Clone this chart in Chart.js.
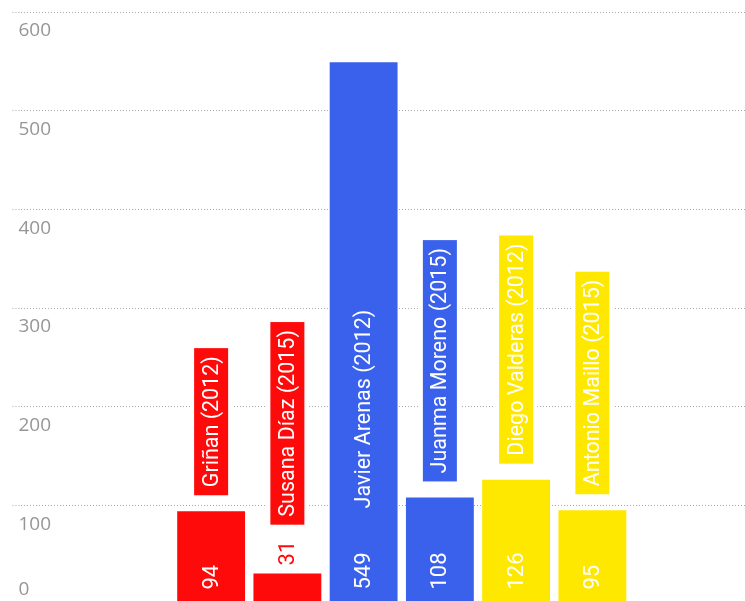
<!DOCTYPE html>
<html>
<head>
<meta charset="utf-8">
<script src="https://cdn.jsdelivr.net/npm/chart.js@4.4.1/dist/chart.umd.min.js"></script>
<style>
	html, body { margin: 0; padding: 0; background: #fff; overflow: hidden; }
	#wrap { position: relative; width: 783px; height: 604px; }
</style>
</head>
<body>
<div id="wrap"><canvas id="c" width="783" height="604"></canvas></div>
<script>
const names = ['Griñan (2012)', 'Susana Díaz (2015)', 'Javier Arenas (2012)', 'Juanma Moreno (2015)', 'Diego Valderas (2012)', 'Antonio Maillo (2015)'];
const votes = [94, 31, 549, 108, 126, 95];
const partyColors = ['#ff0a0a', '#ff0a0a', '#3a61ec', '#3a61ec', '#ffe800', '#ffe800'];
const yTicks = [0, 100, 200, 300, 400, 500, 600];

// the picture is a crop, so there are empty slots either side of the bars
const emptySlots = 2;

const nameFont = '21.5px Roboto, "Liberation Sans", sans-serif';
const valueFont = '22px Roboto, "Liberation Sans", sans-serif';
const tickFont = '19px "Open Sans", "Liberation Sans", sans-serif';

function padded(arr, fill) {
	const blank = Array(emptySlots).fill(fill);
	return blank.concat(arr, blank);
}

function rotatedText(ctx, text, x, y, color) {
	ctx.save();
	ctx.translate(x, y);
	ctx.rotate(-Math.PI / 2);
	ctx.fillStyle = color;
	ctx.textAlign = 'left';
	ctx.textBaseline = 'middle';
	ctx.fillText(text, 0, 1);
	ctx.restore();
}

// y tick labels sit just under their grid line
const tickLabels = {
	id: 'tickLabels',
	beforeDatasetsDraw(chart) {
		const ctx = chart.ctx, y = chart.scales.y, area = chart.chartArea;
		ctx.save();
		ctx.font = tickFont;
		ctx.fillStyle = '#969696';
		ctx.textAlign = 'left';
		ctx.textBaseline = 'middle';
		yTicks.forEach(t => {
			const py = Math.min(y.getPixelForValue(t) + 19, area.bottom - 14);
			ctx.fillText(String(t), y.left + 6, py);
		});
		ctx.restore();
	}
};

// value at the foot of each bar, name inside the bar or in a tag above it
const barLabels = {
	id: 'barLabels',
	afterDatasetsDraw(chart) {
		const ctx = chart.ctx;
		const meta = chart.getDatasetMeta(0);
		meta.data.forEach((bar, i) => {
			const k = i - emptySlots;
			if (k < 0 || k >= votes.length) return;
			const { x, y, base } = bar.getProps(['x', 'y', 'base'], true);
			const color = partyColors[k];

			ctx.font = valueFont;
			const vw = ctx.measureText(String(votes[k])).width;
			let vStart, inside = base - y >= vw + 20;
			if (inside) {
				vStart = base - 14;
				rotatedText(ctx, String(votes[k]), x, vStart, '#fff');
			} else {
				vStart = y - 8;
				rotatedText(ctx, String(votes[k]), x, vStart, color);
			}
			const vTop = vStart - vw;

			ctx.font = nameFont;
			const nw = ctx.measureText(names[k]).width;
			if (inside && vTop - 44 - nw > y + 10) {
				rotatedText(ctx, names[k], x, vTop - 44, '#fff');
				return;
			}
			const pad = 8, half = 17;
			const bottom = (inside ? y : vTop) - 16;
			const top = bottom - nw - 2 * pad;
			ctx.save();
			ctx.fillStyle = '#fff';
			ctx.fillRect(x - half - 4, top - 4, 2 * half + 8, bottom - top + 8);
			ctx.fillStyle = color;
			ctx.fillRect(x - half, top, 2 * half, bottom - top);
			ctx.restore();
			ctx.font = nameFont;
			rotatedText(ctx, names[k], x, bottom - pad, '#fff');
		});
	}
};

window.onload = function() {
	new Chart(document.getElementById('c').getContext('2d'), {
		type: 'bar',
		data: {
			labels: padded(names, ''),
			datasets: [{
				data: padded(votes, null),
				backgroundColor: padded(partyColors, 'rgba(0,0,0,0)'),
				borderWidth: 0,
				barPercentage: 0.89,
				categoryPercentage: 1,
			}],
		},
		options: {
			responsive: false,
			animation: false,
			devicePixelRatio: 1,
			layout: { padding: { left: 12.5, top: 12, right: 0, bottom: 0 } },
			plugins: {
				legend: { display: false },
				tooltip: { enabled: false },
			},
			scales: {
				x: { display: false },
				y: {
					min: 0,
					max: 600,
					ticks: { stepSize: 100, display: false },
					grid: {
						color: '#a8a8a8',
						lineWidth: 1,
						drawTicks: true,
						tickLength: 8,
						tickColor: '#a8a8a8',
						tickBorderDash: [1, 2],
					},
					border: { display: false, dash: [1, 2] },
				},
			},
		},
		plugins: [tickLabels, barLabels],
	});
};
</script>
</body>
</html>
